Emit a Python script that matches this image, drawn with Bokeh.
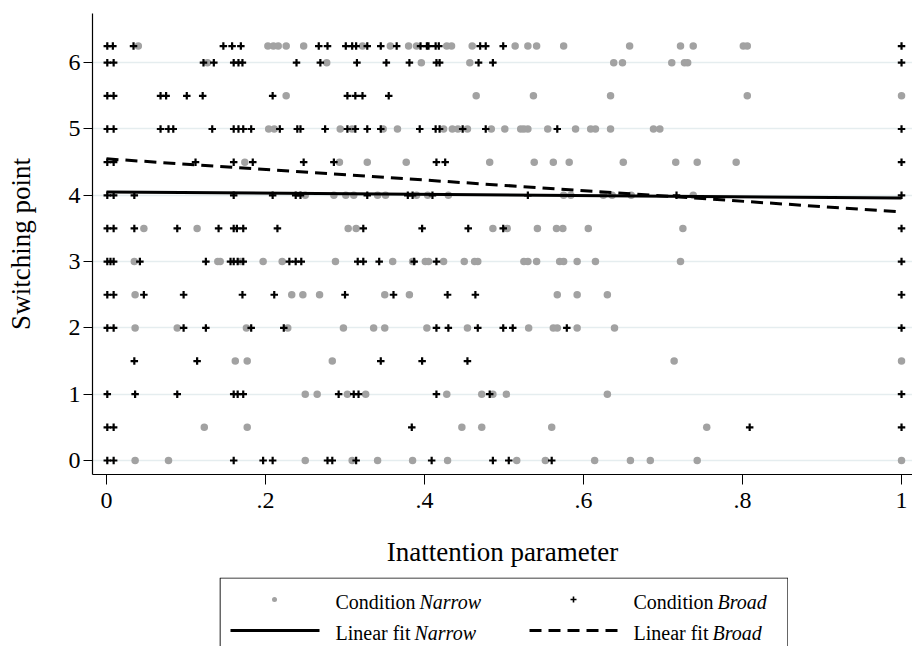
from bokeh.plotting import figure
from bokeh.models import Range1d, FixedTicker, Spacer
from bokeh.layouts import column, row
from bokeh.core.properties import value
from bokeh.embed import file_html
from bokeh.resources import INLINE

FONT = "Liberation Serif"
GRAY = "#a2a2a2"

# ---- data: x positions (inattention parameter) per switching-point level ----
levels = [6.25, 6, 5.5, 5, 4.5, 4, 3.5, 3, 2.5, 2, 1.5, 1, 0.5, 0]

narrow_625 = [0.040, 0.203, 0.210, 0.216, 0.226, 0.248, 0.322, 0.357, 0.380, 0.390, 0.428, 0.434,
              0.460, 0.514, 0.530, 0.541, 0.575, 0.658, 0.722, 0.738, 0.801, 0.806]
narrow_6 = [0.127, 0.277, 0.396, 0.457, 0.638, 0.649, 0.711, 0.727, 0.731]
narrow_55 = [0.226, 0.465, 0.537, 0.634, 0.806, 1.0]
narrow_5 = [0.204, 0.211, 0.294, 0.309, 0.348, 0.366, 0.424, 0.435, 0.442, 0.454, 0.484, 0.501,
            0.521, 0.525, 0.530, 0.555, 0.590, 0.609, 0.615, 0.634, 0.688, 0.696]
narrow_45 = [0.174, 0.293, 0.328, 0.377, 0.482, 0.538, 0.562, 0.582, 0.650, 0.716, 0.743, 0.792]
narrow_4 = [0.250, 0.286, 0.301, 0.311, 0.341, 0.351, 0.390, 0.404, 0.430, 0.575, 0.584, 0.625,
            0.636, 0.660, 0.738]
narrow_35 = [0.047, 0.114, 0.304, 0.314, 0.486, 0.504, 0.542, 0.566, 0.574, 0.606, 0.725]
narrow_3 = [0.035, 0.140, 0.143, 0.169, 0.197, 0.221, 0.288, 0.360, 0.385, 0.401, 0.405, 0.424,
            0.450, 0.463, 0.467, 0.525, 0.530, 0.541, 0.570, 0.575, 0.592, 0.615, 0.722]
narrow_25 = [0.036, 0.233, 0.247, 0.268, 0.350, 0.381, 0.567, 0.592, 0.630]
narrow_2 = [0.036, 0.089, 0.176, 0.228, 0.298, 0.336, 0.350, 0.403, 0.454, 0.531, 0.562, 0.567,
            0.592, 0.639]
narrow_15 = [0.162, 0.177, 0.284, 0.714, 1.0]
narrow_1 = [0.250, 0.265, 0.303, 0.326, 0.428, 0.472, 0.486, 0.503, 0.630]
narrow_05 = [0.123, 0.177, 0.447, 0.472, 0.560, 0.755]
narrow_0 = [0.036, 0.078, 0.250, 0.309, 0.341, 0.385, 0.429, 0.516, 0.552, 0.614, 0.659, 0.684,
            0.743, 1.0]

broad_625 = [0.001, 0.008, 0.034, 0.147, 0.158, 0.169, 0.267, 0.278, 0.301, 0.309, 0.314, 0.328,
             0.345, 0.365, 0.395, 0.403, 0.405, 0.414, 0.418, 0.470, 0.477, 0.499, 1.0]
broad_6 = [0.001, 0.009, 0.122, 0.135, 0.160, 0.166, 0.171, 0.239, 0.269, 0.315, 0.352, 0.381,
           0.415, 0.419, 0.468, 0.486, 1.0]
broad_55 = [0.001, 0.009, 0.068, 0.075, 0.101, 0.121, 0.209, 0.303, 0.313, 0.322, 0.355]
broad_5 = [0.001, 0.009, 0.068, 0.078, 0.084, 0.133, 0.160, 0.166, 0.172, 0.182, 0.218, 0.240,
           0.244, 0.275, 0.303, 0.313, 0.328, 0.345, 0.394, 0.414, 0.419, 0.448, 0.477, 0.567, 1.0]
broad_45 = [0.001, 0.009, 0.112, 0.160, 0.184, 0.248, 0.286, 0.415, 0.426, 1.0]
broad_4 = [0.001, 0.009, 0.035, 0.160, 0.209, 0.238, 0.244, 0.328, 0.379, 0.385, 0.410, 0.530,
           0.717, 1.0]
broad_35 = [0.001, 0.009, 0.035, 0.089, 0.141, 0.160, 0.164, 0.172, 0.215, 0.323, 0.397, 0.455,
            0.499, 1.0]
broad_3 = [0.001, 0.005, 0.009, 0.042, 0.125, 0.156, 0.160, 0.165, 0.172, 0.230, 0.238, 0.245,
           0.316, 0.323, 0.343, 0.387, 0.415, 1.0]
broad_25 = [0.001, 0.009, 0.047, 0.097, 0.171, 0.211, 0.300, 0.361, 0.429, 0.464, 1.0]
broad_2 = [0.001, 0.009, 0.097, 0.125, 0.182, 0.223, 0.415, 0.430, 0.467, 0.499, 0.511, 0.579, 1.0]
broad_15 = [0.035, 0.114, 0.345, 0.397, 0.454]
broad_1 = [0.001, 0.036, 0.089, 0.160, 0.165, 0.172, 0.292, 0.311, 0.317, 0.415, 0.482, 1.0]
broad_05 = [0.001, 0.009, 0.384, 0.809, 1.0]
broad_0 = [0.001, 0.009, 0.160, 0.197, 0.209, 0.278, 0.284, 0.314, 0.409, 0.486, 0.506, 0.560]

# linear fits (endpoints)
fit_x = [0.0, 1.0]
fit_narrow = [4.05, 3.96]
fit_broad = [4.55, 3.75]

x_ticks = [0, 0.2, 0.4, 0.6, 0.8, 1]
x_tick_labels = ["0", ".2", ".4", ".6", ".8", "1"]
y_ticks = [0, 1, 2, 3, 4, 5, 6]

legend_labels = [("Condition ", "Narrow"), ("Condition ", "Broad"),
                 ("Linear fit ", "Narrow"), ("Linear fit ", "Broad")]

narrow_rows = [narrow_625, narrow_6, narrow_55, narrow_5, narrow_45, narrow_4, narrow_35,
               narrow_3, narrow_25, narrow_2, narrow_15, narrow_1, narrow_05, narrow_0]
broad_rows = [broad_625, broad_6, broad_55, broad_5, broad_45, broad_4, broad_35,
              broad_3, broad_25, broad_2, broad_15, broad_1, broad_05, broad_0]

nx, ny, bx, by = [], [], [], []
for lv, xs in zip(levels, narrow_rows):
    nx += xs
    ny += [lv] * len(xs)
for lv, xs in zip(levels, broad_rows):
    bx += xs
    by += [lv] * len(xs)

# ---- main plot ----
p = figure(width=912, height=577,
           x_range=Range1d(-0.0176, 1.0138), y_range=Range1d(-0.211, 6.742),
           output_backend="svg", toolbar_location=None,
           min_border_left=92, min_border_right=0, min_border_top=13, min_border_bottom=103)
p.outline_line_color = None
p.background_fill_color = "white"
p.border_fill_color = "white"

p.xgrid.visible = False
p.yaxis.ticker = FixedTicker(ticks=y_ticks)
p.xaxis.ticker = FixedTicker(ticks=x_ticks)
p.xaxis.major_label_overrides = {t: l for t, l in zip(x_ticks, x_tick_labels)}
p.ygrid.grid_line_color = "#e5edef"
p.ygrid.grid_line_width = 1.4

for ax in (p.xaxis[0], p.yaxis[0]):
    ax.axis_line_color = "black"
    ax.axis_line_width = 1.2
    ax.major_tick_line_color = "black"
    ax.major_tick_line_width = 1
    ax.major_tick_in = 0
    ax.minor_tick_line_color = None
    ax.major_label_text_font = FONT
    ax.major_label_text_font_size = "24px"
    ax.major_label_text_color = "black"
    ax.axis_label_text_font = FONT
    ax.axis_label_text_font_size = "27px"
    ax.axis_label_text_font_style = "normal"
    ax.axis_label_text_color = "black"

p.xaxis.major_tick_out = 10
p.xaxis.major_label_standoff = 8
p.xaxis.axis_label = "Inattention parameter"
p.xaxis.axis_label_standoff = 26
p.yaxis.major_tick_out = 9
p.yaxis.major_label_standoff = 3
p.yaxis.axis_label = "Switching point"
p.yaxis.axis_label_standoff = 30

p.scatter(nx, ny, marker="circle", size=7.5, fill_color=GRAY, line_color=None)
p.scatter(bx, by, marker="cross", size=7.5, line_color="black", line_width=2.2)
p.line(fit_x, fit_narrow, line_color="black", line_width=3)
p.line(fit_x, fit_broad, line_color="black", line_width=3, line_dash="12 7")

# ---- legend (own small canvas, pixel coordinates) ----
leg = figure(width=569, height=69, x_range=Range1d(0, 569), y_range=Range1d(69, 0),
             output_backend="svg", toolbar_location=None, min_border=0)
leg.axis.visible = False
leg.grid.visible = False
leg.outline_line_color = None
leg.background_fill_color = "white"
leg.border_fill_color = "white"
leg.quad(left=[0.5], right=[568.5], top=[0.5], bottom=[90], fill_color=None,
         line_color="black", line_width=1.2)

leg.scatter([55], [22], marker="circle", size=5, fill_color=GRAY, line_color=None)
leg.scatter([354], [22], marker="cross", size=6, line_color="black", line_width=1.6)
leg.line([11, 100], [53, 53], line_color="black", line_width=3)
leg.line([310, 399], [53, 53], line_color="black", line_width=3, line_dash="12 7")

text_x = [116, 414, 116, 414]
text_y = [24, 24, 55, 55]
ital_off = [84, 84, 79, 79]
leg.text(text_x, text_y, text=[a for a, b in legend_labels], text_font=value(FONT),
         text_font_size="20px", text_baseline="middle", text_align="left", text_color="black")
leg.text([x + o for x, o in zip(text_x, ital_off)], text_y, text=[b for a, b in legend_labels],
         text_font=value(FONT), text_font_size="20px", text_font_style="italic",
         text_baseline="middle", text_align="left", text_color="black")

layout = column(p, row(Spacer(width=219, height=69), leg, spacing=0), spacing=0)

open("out.html", "w").write(file_html(layout, INLINE))
